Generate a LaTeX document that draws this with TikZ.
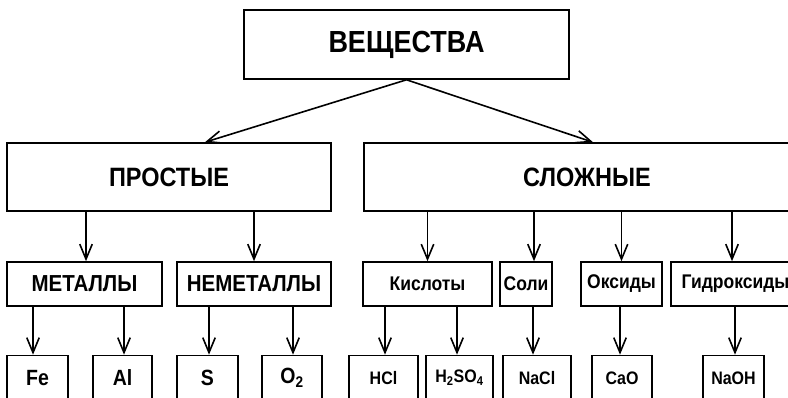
\documentclass[tikz,border=0pt]{standalone}
\usepackage{fontspec}
\setmainfont{Liberation Sans}
\usetikzlibrary{arrows.meta}
\newcommand\vstr[1]{\scalebox{1}[1.13]{#1}}
\begin{document}
\begin{tikzpicture}[x=1pt,y=-1pt,
  box/.style={draw, line width=1.6pt, inner sep=0pt, font=\bfseries},
  fa/.style={font=\bfseries\fontsize{27}{30}\selectfont},
  fb/.style={font=\bfseries\fontsize{23.5}{26}\selectfont},
  fc/.style={font=\bfseries\fontsize{20.5}{24}\selectfont},
  fd/.style={font=\bfseries\fontsize{17.5}{20}\selectfont},
  fe/.style={font=\bfseries\fontsize{19.5}{22}\selectfont},
  ff/.style={font=\bfseries\fontsize{16}{19}\selectfont},
  arr/.style={line width=1.6pt, -{Straight Barb[length=15pt,width=12.5pt,line width=1.6pt]}}]
\useasboundingbox (0,0) rectangle (788,398);
\clip (0,0) rectangle (788,398);
% level 0
\node[box, fa, minimum width=325pt, minimum height=69pt] (top) at (406.5,44.5) {\vstr{ВЕЩЕСТВА}};
% level 1
\node[box, fb, minimum width=324pt, minimum height=68pt] (prost) at (169,177) {\vstr{ПРОСТЫЕ}};
\node[box, fb, minimum width=446pt, minimum height=68pt] (slozh) at (587,177) {\vstr{СЛОЖНЫЕ}};
% level 2
\node[box, fc, minimum width=155pt, minimum height=44pt] (met) at (84.5,284) {\vstr{МЕТАЛЛЫ}};
\node[box, fc, minimum width=154pt, minimum height=44pt] (nemet) at (254,284) {\vstr{НЕМЕТАЛЛЫ}};
\node[box, fd, minimum width=129pt, minimum height=44pt] (kisl) at (427.5,284) {\vstr{Кислоты}};
\node[box, fd, minimum width=52pt, minimum height=44pt] (soli) at (526,284) {\vstr{Соли}};
\node[box, fd, minimum width=81pt, minimum height=44pt] (oks) at (621.5,284) {\vstr{Оксиды}};
\node[box, fd, minimum width=129pt, minimum height=44pt] (gidr) at (735.5,284) {\vstr{Гидроксиды}};
% level 3
\node[box, fe, minimum width=61pt, minimum height=45pt] (fe) at (37.5,378) {\vstr{Fe}};
\node[box, fe, minimum width=59pt, minimum height=45pt] (al) at (122.5,378) {\vstr{Al}};
\node[box, fe, minimum width=61pt, minimum height=45pt] (s) at (207.5,378) {\vstr{S}};
\node[box, fe, minimum width=60pt, minimum height=45pt] (o2) at (292,378) {\vstr{O\textsubscript{2}}};
\node[box, ff, minimum width=69pt, minimum height=45pt] (hcl) at (383.5,378) {\vstr{HCl}};
\node[box, ff, minimum width=67pt, minimum height=45pt] (h2so4) at (459.5,378) {\vstr{H\textsubscript{2}SO\textsubscript{4}}};
\node[box, ff, minimum width=68pt, minimum height=45pt] (nacl) at (537,378) {\vstr{NaCl}};
\node[box, ff, minimum width=60pt, minimum height=45pt] (cao) at (622,378) {\vstr{CaO}};
\node[box, ff, minimum width=61pt, minimum height=45pt] (naoh) at (733.5,378) {\vstr{NaOH}};
% arrows level 0 -> 1
\draw[arr] (top.south) -- ([xshift=36pt]prost.north);
\draw[arr] (top.south) -- ([xshift=6pt]slozh.north);
% arrows level 1 -> 2
\draw[arr] ([xshift=1.5pt]met.north |- prost.south) -- ([xshift=1.5pt]met.north);
\draw[arr] (nemet.north |- prost.south) -- (nemet.north);
\draw[arr] (kisl.north |- slozh.south) -- (kisl.north);
\draw[arr] ([xshift=8pt]soli.north |- slozh.south) -- ([xshift=8pt]soli.north);
\draw[arr] (oks.north |- slozh.south) -- (oks.north);
\draw[arr] ([xshift=-3.5pt]gidr.north |- slozh.south) -- ([xshift=-3.5pt]gidr.north);
% arrows level 2 -> 3
\draw[arr] ([xshift=-4.5pt]fe.north |- met.south) -- ([xshift=-4.5pt]fe.north);
\draw[arr] ([xshift=1.5pt]al.north |- met.south) -- ([xshift=1.5pt]al.north);
\draw[arr] ([xshift=1.5pt]s.north |- nemet.south) -- ([xshift=1.5pt]s.north);
\draw[arr] ([xshift=1pt]o2.north |- nemet.south) -- ([xshift=1pt]o2.north);
\draw[arr] ([xshift=1.5pt]hcl.north |- kisl.south) -- ([xshift=1.5pt]hcl.north);
\draw[arr] ([xshift=-2.5pt]h2so4.north |- kisl.south) -- ([xshift=-2.5pt]h2so4.north);
\draw[arr] ([xshift=-4pt]nacl.north |- soli.south) -- ([xshift=-4pt]nacl.north);
\draw[arr] ([xshift=-2pt]cao.north |- oks.south) -- ([xshift=-2pt]cao.north);
\draw[arr] ([xshift=1.5pt]naoh.north |- gidr.south) -- ([xshift=1.5pt]naoh.north);
\end{tikzpicture}
\end{document}
